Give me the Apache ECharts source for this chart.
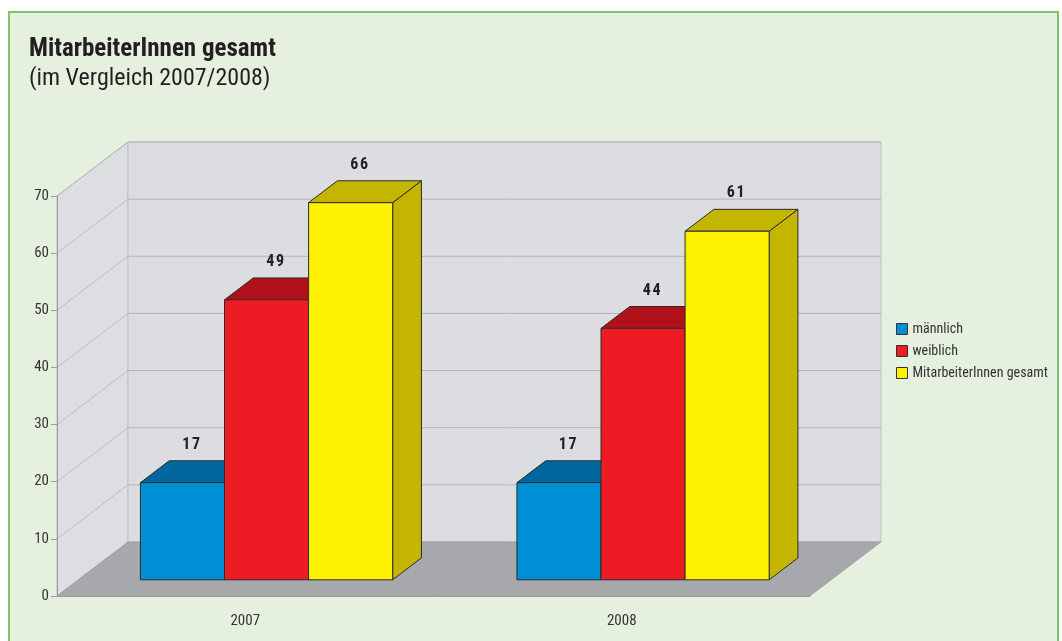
<!DOCTYPE html>
<html>
<head>
<meta charset="utf-8">
<script src="https://cdn.jsdelivr.net/npm/echarts@6/dist/echarts.min.js"></script>
<style>
  html, body { margin: 0; padding: 0; background: #fff; }
  .frame {
    position: absolute; left: 8px; top: 11px; width: 1047px; height: 640px;
    background: #e5f1de; border: 2px solid #7dc462; border-bottom: none;
  }
  #main { position: absolute; left: 0; top: 0; width: 1062px; height: 641px; }
</style>
</head>
<body>
<div class="frame"></div>
<div id="main"></div>
<script>
// Daten
const years = ['2007', '2008']
const maennlich = [17, 17]
const weiblich = [49, 44]
const gesamt = [66, 61]
const yTicks = [0, 10, 20, 30, 40, 50, 60, 70]

const FONT = '"Liberation Sans Narrow", "Roboto Condensed", "Liberation Sans", sans-serif'

// Pseudo-3D: Tiefe des Diagramms (Pixel)
const DX = 71
const DY = -54
const D0 = 0.3 // Vorderkante der Säulen
const D1 = 0.705 // Hinterkante der Säulen
const BAR_FRAC = 0.67

const seriesDefs = [
  { name: 'männlich', values: maennlich, front: '#008fd5', shade: '#00679e' },
  { name: 'weiblich', values: weiblich, front: '#ed1c24', shade: '#b0111a' },
  { name: 'MitarbeiterInnen gesamt', values: gesamt, front: '#fff200', shade: '#c4b500' }
]

const myChart = echarts.init(document.getElementById('main'))

function renderWalls (params, api) {
  const cs = params.coordSys
  const x0 = cs.x
  const x1 = cs.x + cs.width
  const yTop = cs.y
  const yBot = cs.y + cs.height
  const children = []
  // Seitenwand
  children.push({
    type: 'polygon',
    shape: { points: [[x0, yTop], [x0 + DX, yTop + DY], [x0 + DX, yBot + DY], [x0, yBot]] },
    style: { fill: '#dddee1', stroke: '#b9babc', lineWidth: 1 }
  })
  // Rückwand
  children.push({
    type: 'rect',
    shape: { x: x0 + DX, y: yTop + DY, width: cs.width, height: cs.height },
    style: { fill: '#dcdde0', stroke: '#c2c3c5', lineWidth: 1 }
  })
  yTicks.forEach(function (v) {
    const y = api.coord([0, v])[1]
    children.push({
      type: 'line',
      shape: { x1: x0 + DX, y1: y + DY, x2: x1 + DX, y2: y + DY },
      style: { stroke: '#b3b4b6', lineWidth: 1 }
    })
    children.push({
      type: 'line',
      shape: { x1: x0, y1: y, x2: x0 + DX, y2: y + DY },
      style: { stroke: '#b3b4b6', lineWidth: 0.8 }
    })
  })
  // Boden
  children.push({
    type: 'polygon',
    shape: { points: [[x0, yBot], [x0 + DX, yBot + DY], [x1 + DX, yBot + DY], [x1, yBot]] },
    style: { fill: '#a7a8ab', stroke: '#9a9b9e', lineWidth: 0.6 }
  })
  return { type: 'group', children: children }
}

function makeBarRenderer (k, def) {
  return function (params, api) {
    const ci = api.value(0)
    const v = api.value(1)
    const base = api.coord([ci, 0])
    const top = api.coord([ci, v])
    const band = api.size([1, 0])[0]
    const w = band * BAR_FRAC / 3
    const left = base[0] - 1.5 * w + k * w + D0 * DX
    const y0 = base[1] + D0 * DY
    const y1 = top[1] + D0 * DY
    const ddx = (D1 - D0) * DX
    const ddy = (D1 - D0) * DY
    const edge = { stroke: '#2b2b2b', lineWidth: 1 }
    return {
      type: 'group',
      children: [
        {
          type: 'polygon',
          shape: { points: [[left + w, y1], [left + w + ddx, y1 + ddy], [left + w + ddx, y0 + ddy], [left + w, y0]] },
          style: Object.assign({ fill: def.shade }, edge)
        },
        {
          type: 'polygon',
          shape: { points: [[left, y1], [left + w, y1], [left + w + ddx, y1 + ddy], [left + ddx, y1 + ddy]] },
          style: Object.assign({ fill: def.shade }, edge)
        },
        {
          type: 'rect',
          shape: { x: left, y: y1, width: w, height: y0 - y1 },
          style: Object.assign({ fill: def.front }, edge)
        },
        {
          type: 'text',
          x: left + w / 2 + ddx * 0.3,
          y: y1 + ddy - 8,
          style: {
            text: String(v).split('').join('\u200a'),
            fill: '#222',
            font: 'bold 16px ' + FONT,
            align: 'center',
            verticalAlign: 'bottom'
          }
        }
      ]
    }
  }
}

const series = [{
  type: 'custom',
  name: 'walls',
  z: 1,
  silent: true,
  clip: false,
  renderItem: renderWalls,
  data: [[0, 0]]
}]

seriesDefs.forEach(function (def, k) {
  series.push({
    type: 'custom',
    name: def.name,
    z: 2 + k,
    clip: false,
    itemStyle: { color: def.front },
    renderItem: makeBarRenderer(k, def),
    data: def.values.map(function (v, i) { return [i, v] })
  })
})

const options = {
  animation: false,
  backgroundColor: 'transparent',
  title: {
    text: 'MitarbeiterInnen gesamt',
    subtext: '(im Vergleich 2007/2008)',
    left: 24,
    top: 32,
    itemGap: 5,
    textStyle: { fontFamily: FONT, fontSize: 25, fontWeight: 'bold', color: '#231f20' },
    subtextStyle: { fontFamily: FONT, fontSize: 24, color: '#231f20' }
  },
  legend: {
    data: seriesDefs.map(function (d) { return d.name }),
    orient: 'vertical',
    left: 891,
    top: 317,
    icon: 'rect',
    itemWidth: 11,
    itemHeight: 11,
    itemGap: 8,
    itemStyle: { borderColor: '#333', borderWidth: 1 },
    textStyle: { fontFamily: FONT, fontSize: 14, color: '#333' }
  },
  grid: { left: 57, top: 196, width: 753, height: 400, containLabel: false },
  xAxis: {
    type: 'category',
    data: years,
    z: 10,
    axisLine: { lineStyle: { color: '#9a9b9e' } },
    axisTick: { length: 8, lineStyle: { color: '#9a9b9e' } },
    axisLabel: { margin: 18, fontFamily: FONT, fontSize: 15, color: '#333' },
    splitLine: { show: false }
  },
  yAxis: {
    type: 'value',
    min: 0,
    max: 70,
    interval: 10,
    z: 10,
    axisLine: { show: true, lineStyle: { color: '#9a9b9e' } },
    axisTick: { show: true, length: 6, lineStyle: { color: '#9a9b9e' } },
    axisLabel: { margin: 8, fontFamily: FONT, fontSize: 15, color: '#333' },
    splitLine: { show: false }
  },
  series: series
}

myChart.setOption(options)
</script>
</body>
</html>
